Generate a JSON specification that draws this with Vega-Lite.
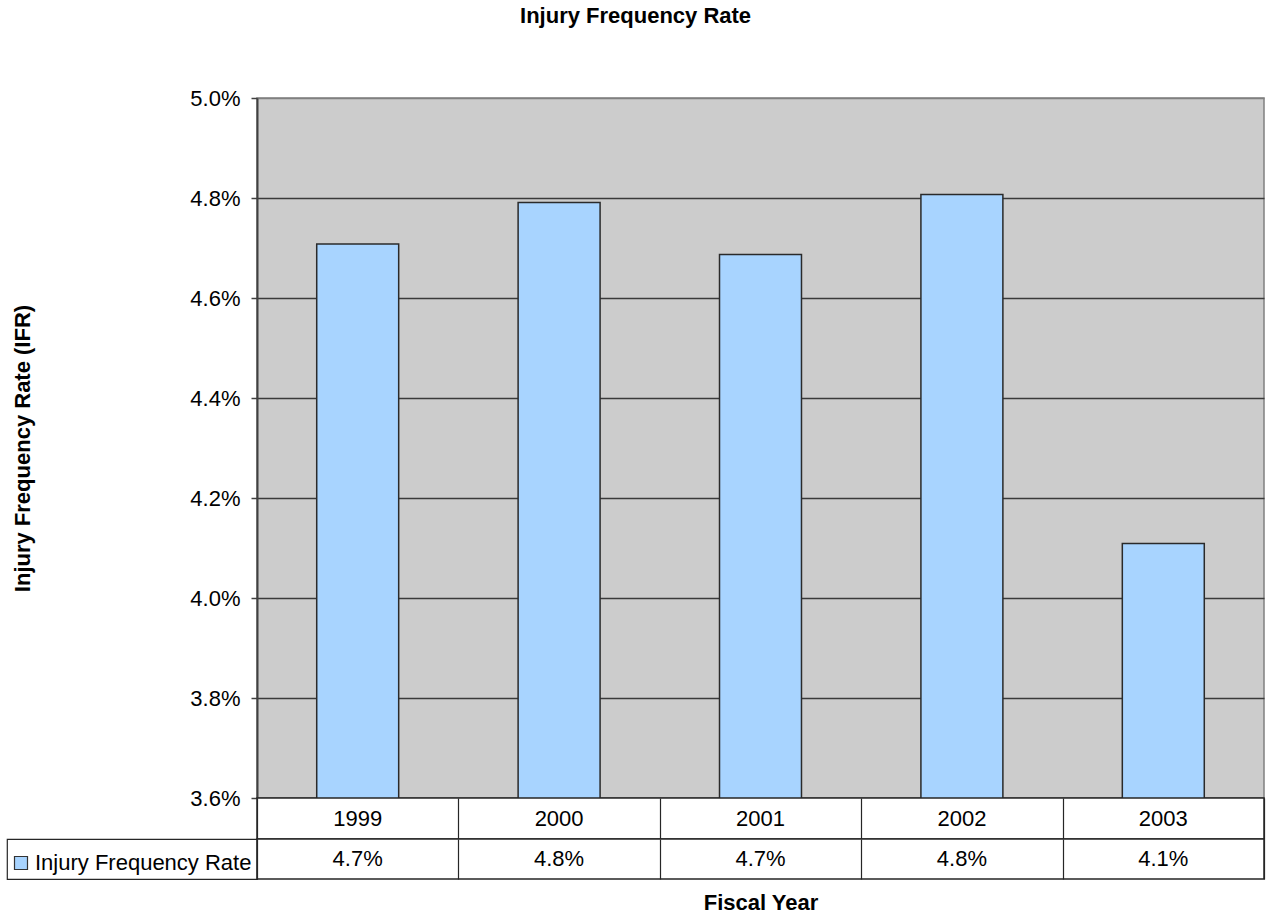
{
  "$schema": "https://vega.github.io/schema/vega-lite/v6.json",
  "padding": {"left": 6, "top": 5, "right": 3, "bottom": 5},
  "background": "#ffffff",
  "title": {
    "text": "Injury Frequency Rate",
    "anchor": "middle",
    "fontSize": 22,
    "fontWeight": "bold",
    "color": "#000000",
    "offset": 58
  },
  "datasets": {
    "ifr": [
      {"year": "1999", "rate": 0.04708},
      {"year": "2000", "rate": 0.04791},
      {"year": "2001", "rate": 0.04687},
      {"year": "2002", "rate": 0.04807},
      {"year": "2003", "rate": 0.04109}
    ]
  },
  "columns": 2,
  "bounds": "flush",
  "spacing": 0,
  "resolve": {"scale": {"color": "independent"}, "legend": {"color": "independent"}},
  "concat": [
    {
      "width": 250,
      "height": 700,
      "data": {"values": []},
      "mark": "point",
      "encoding": {},
      "view": {"stroke": null}
    },
    {
      "width": 1007,
      "height": 700,
      "data": {"name": "ifr"},
      "view": {"fill": "#CCCCCC", "stroke": "#808080", "strokeWidth": 1.5},
      "mark": {"type": "bar", "fill": "#A8D4FF", "stroke": "#2a2a2a", "strokeWidth": 1.5, "clip": true},
      "encoding": {
        "x": {
          "field": "year",
          "type": "ordinal",
          "scale": {"paddingInner": 0.593, "paddingOuter": 0.2965},
          "axis": null
        },
        "y": {
          "field": "rate",
          "type": "quantitative",
          "scale": {"domain": [0.036, 0.05], "zero": false, "nice": false},
          "axis": {
            "values": [0.036, 0.038, 0.04, 0.042, 0.044, 0.046, 0.048, 0.05],
            "format": ".1%",
            "labelFontSize": 22,
            "labelColor": "#000000",
            "labelPadding": 11,
            "tickSize": 6,
            "tickColor": "#404040",
            "tickWidth": 1.5,
            "domainColor": "#404040",
            "domainWidth": 2,
            "grid": true,
            "gridColor": {"condition": {"test": "datum.value >= 0.05", "value": "#808080"}, "value": "#3a3a3a"},
            "gridWidth": 1.5,
            "title": "Injury Frequency Rate (IFR)",
            "titleFontSize": 22,
            "titleFontWeight": "bold",
            "titleColor": "#000000",
            "titlePadding": 155
          }
        }
      }
    },
    {
      "width": 250,
      "height": 41,
      "data": {"values": []},
      "mark": "point",
      "encoding": {},
      "view": {"stroke": null}
    },
    {
      "width": 1007,
      "height": 41,
      "data": {"name": "ifr"},
      "view": {"fill": "#ffffff", "stroke": "#262626", "strokeWidth": 1.5},
      "mark": {"type": "text", "fontSize": 22, "color": "#000000", "align": "center", "baseline": "middle"},
      "encoding": {
        "x": {
          "field": "year",
          "type": "ordinal",
          "scale": {"paddingInner": 0, "paddingOuter": 0},
          "axis": {
            "orient": "top",
            "labels": false,
            "ticks": false,
            "domain": false,
            "grid": true,
            "tickBand": "extent",
            "gridColor": "#262626",
            "gridWidth": 1.2,
            "title": null
          }
        },
        "text": {"field": "year", "type": "nominal"}
      }
    },
    {
      "width": 250,
      "height": 40,
      "data": {"values": [{"series": "Injury Frequency Rate"}]},
      "view": {"fill": "#ffffff", "stroke": "#262626", "strokeWidth": 1.2},
      "mark": {"type": "square", "filled": true, "opacity": 0},
      "encoding": {
        "color": {
          "field": "series",
          "type": "nominal",
          "scale": {"range": ["#A8D4FF"]},
          "legend": {
            "orient": "none",
            "legendX": 3,
            "legendY": 13,
            "title": null,
            "padding": 0,
            "symbolType": "square",
            "symbolSize": 169,
            "symbolOpacity": 1,
            "symbolStrokeColor": "#333333",
            "symbolStrokeWidth": 1.2,
            "labelFontSize": 22,
            "labelColor": "#000000",
            "labelOffset": 3,
            "labelLimit": 300
          }
        }
      }
    },
    {
      "width": 1007,
      "height": 40,
      "data": {"name": "ifr"},
      "view": {"fill": "#ffffff", "stroke": "#262626", "strokeWidth": 1.5},
      "mark": {"type": "text", "fontSize": 22, "color": "#000000", "align": "center", "baseline": "middle"},
      "encoding": {
        "x": {
          "field": "year",
          "type": "ordinal",
          "scale": {"paddingInner": 0, "paddingOuter": 0},
          "axis": {
            "orient": "bottom",
            "labels": false,
            "ticks": false,
            "domain": false,
            "grid": true,
            "tickBand": "extent",
            "gridColor": "#262626",
            "gridWidth": 1.2,
            "title": "Fiscal Year",
            "titleFontSize": 22,
            "titleFontWeight": "bold",
            "titleColor": "#000000",
            "titlePadding": 13
          }
        },
        "text": {"field": "rate", "type": "quantitative", "format": ".1%"}
      }
    }
  ],
  "config": {
    "font": "Liberation Sans",
    "view": {"stroke": null}
  }
}
